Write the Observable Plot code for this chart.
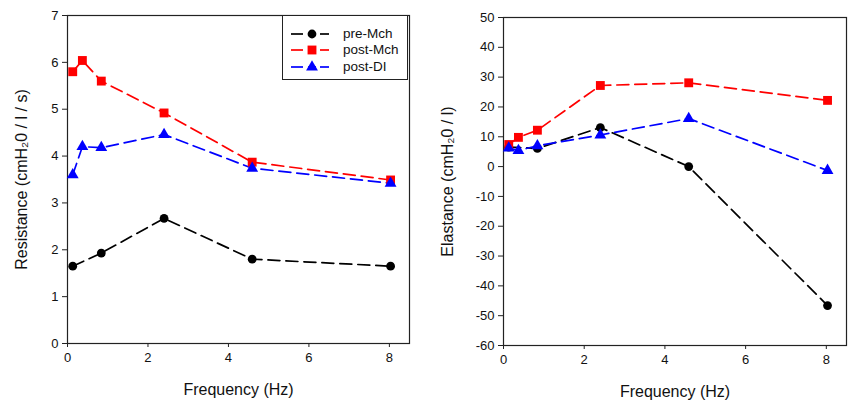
<!DOCTYPE html>
<html>
<head>
<meta charset="utf-8">
<script src="https://cdn.jsdelivr.net/npm/d3@7"></script>
<script src="https://cdn.jsdelivr.net/npm/@observablehq/plot@0.6"></script>
<style>
  html, body { margin: 0; padding: 0; background: #fff; }
  #wrap { position: relative; width: 853px; height: 400px; display: flex; font-family: "Liberation Sans", Arial, sans-serif; }
  #wrap svg { font-family: "Liberation Sans", Arial, sans-serif; }
  g[aria-label="x-axis label"] text, g[aria-label="y-axis label"] text { font-size: 16px; }
  #legend { position: absolute; left: 282px; top: 15px; width: 126px; height: 65px; border: 1.5px solid #222; box-sizing: border-box; background: #fff; }
  #legend .row { position: absolute; left: 0; height: 16px; width: 124px; }
  #legend .row svg { position: absolute; left: 6px; top: 0; }
  #legend .row span { position: absolute; left: 60px; top: 0; font-size: 13.5px; line-height: 16px; color: #111; }
</style>
</head>
<body>
<div id="wrap">
  <div id="left"></div>
  <div id="right"></div>
  <div id="legend"></div>
</div>
<script>
// ---- data ----
const frequency = [0.13, 0.37, 0.84, 2.4, 4.59, 8.03];
const seriesNames = ["pre-Mch", "post-Mch", "post-DI"];
const resistancePre  = [1.65, null, 1.93, 2.67, 1.80, 1.65];
const resistancePost = [5.80, 6.04, 5.60, 4.92, 3.87, 3.49];
const resistanceDI   = [3.60, 4.20, 4.18, 4.46, 3.74, 3.42];
const elastancePre   = [6.5, null, 6.1, 13.1, 0.0, -46.6];
const elastancePost  = [7.4, 9.8, 12.2, 27.2, 28.1, 22.2];
const elastanceDI    = [6.2, 5.4, 7.0, 10.6, 16.1, -1.3];
const xTicks = [0, 2, 4, 6, 8];
const resistanceTicks = [0, 1, 2, 3, 4, 5, 6, 7];
const elastanceTicks = [-60, -50, -40, -30, -20, -10, 0, 10, 20, 30, 40, 50];

const styles = {
  "pre-Mch":  {color: "#000000", symbol: "circle", r: 4.4},
  "post-Mch": {color: "#ff0000", symbol: "square", r: 5.0},
  "post-DI":  {color: "#0000ff", symbol: "triangle", r: 4.4}
};
const dash = "12,6";

function table(valuesList) {
  const rows = [];
  seriesNames.forEach((s, i) => {
    valuesList[i].forEach((v, j) => {
      if (v != null) rows.push({series: s, f: frequency[j], v});
    });
  });
  return rows;
}

function seriesMarks(rows) {
  const marks = [];
  for (const s of seriesNames) {
    const d = rows.filter(r => r.series === s);
    marks.push(Plot.line(d, {x: "f", y: "v", stroke: styles[s].color, strokeWidth: 1.7, strokeDasharray: dash}));
  }
  for (const s of seriesNames) {
    const d = rows.filter(r => r.series === s);
    marks.push(Plot.dot(d, {x: "f", y: "v", symbol: () => styles[s].symbol, fill: styles[s].color, stroke: "none", r: styles[s].r}));
  }
  return marks;
}

const fmt = d => String(d);

function panel({rows, width, marginLeft, marginRight, marginTop, marginBottom, yDomain, yTicks, yLabel, yLabelOffset}) {
  return Plot.plot({
    width, height: 400, marginLeft, marginRight, marginTop, marginBottom,
    style: {fontSize: "13px", color: "#111", background: "transparent"},
    symbol: {type: "identity"},
    x: {domain: [0, 8.5]},
    y: {domain: yDomain},
    marks: [
      Plot.frame({stroke: "#222", strokeWidth: 1.2}),
      Plot.axisX({ticks: xTicks, tickFormat: fmt, tickSize: 4, tickPadding: 5, stroke: "#222", label: "Frequency (Hz)", labelAnchor: "center", labelOffset: 51, labelArrow: "none"}),
      Plot.axisY({ticks: yTicks, tickFormat: fmt, tickSize: 5, tickPadding: 4, stroke: "#222", label: yLabel, labelAnchor: "center", labelOffset: yLabelOffset, labelArrow: "none"}),
      ...seriesMarks(rows)
    ]
  });
}

document.getElementById("left").appendChild(panel({
  rows: table([resistancePre, resistancePost, resistanceDI]),
  width: 430, marginLeft: 67, marginRight: 21, marginTop: 15, marginBottom: 57,
  yDomain: [0, 7], yTicks: resistanceTicks,
  yLabel: "Resistance (cmH\u20820 / l / s)", yLabelOffset: 52
}));
document.getElementById("right").appendChild(panel({
  rows: table([elastancePre, elastancePost, elastanceDI]),
  width: 423, marginLeft: 73, marginRight: 7, marginTop: 17, marginBottom: 55,
  yDomain: [-60, 50], yTicks: elastanceTicks,
  yLabel: "Elastance (cmH\u20820 / l)", yLabelOffset: 62
}));

// legend
const legend = document.getElementById("legend");
const symPath = {
  "circle": d3.symbol(d3.symbolCircle, Math.PI * 4.4 * 4.4)(),
  "square": d3.symbol(d3.symbolSquare, Math.PI * 5.0 * 5.0)(),
  "triangle": d3.symbol(d3.symbolTriangle, Math.PI * 4.4 * 4.4)()
};
seriesNames.forEach((s, i) => {
  const row = document.createElement("div");
  row.className = "row";
  row.style.top = (10 + i * 16.3) + "px";
  const st = styles[s];
  row.innerHTML = `<svg width="44" height="16"><line x1="2" x2="14" y1="8" y2="8" stroke="${st.color}" stroke-width="1.7"/><line x1="19" x2="27" y1="8" y2="8" stroke="${st.color}" stroke-width="1.7"/><line x1="31" x2="40" y1="8" y2="8" stroke="${st.color}" stroke-width="1.7"/><path transform="translate(23,8)" d="${symPath[st.symbol]}" fill="${st.color}"/></svg><span>${s}</span>`;
  legend.appendChild(row);
});
</script>
</body>
</html>
